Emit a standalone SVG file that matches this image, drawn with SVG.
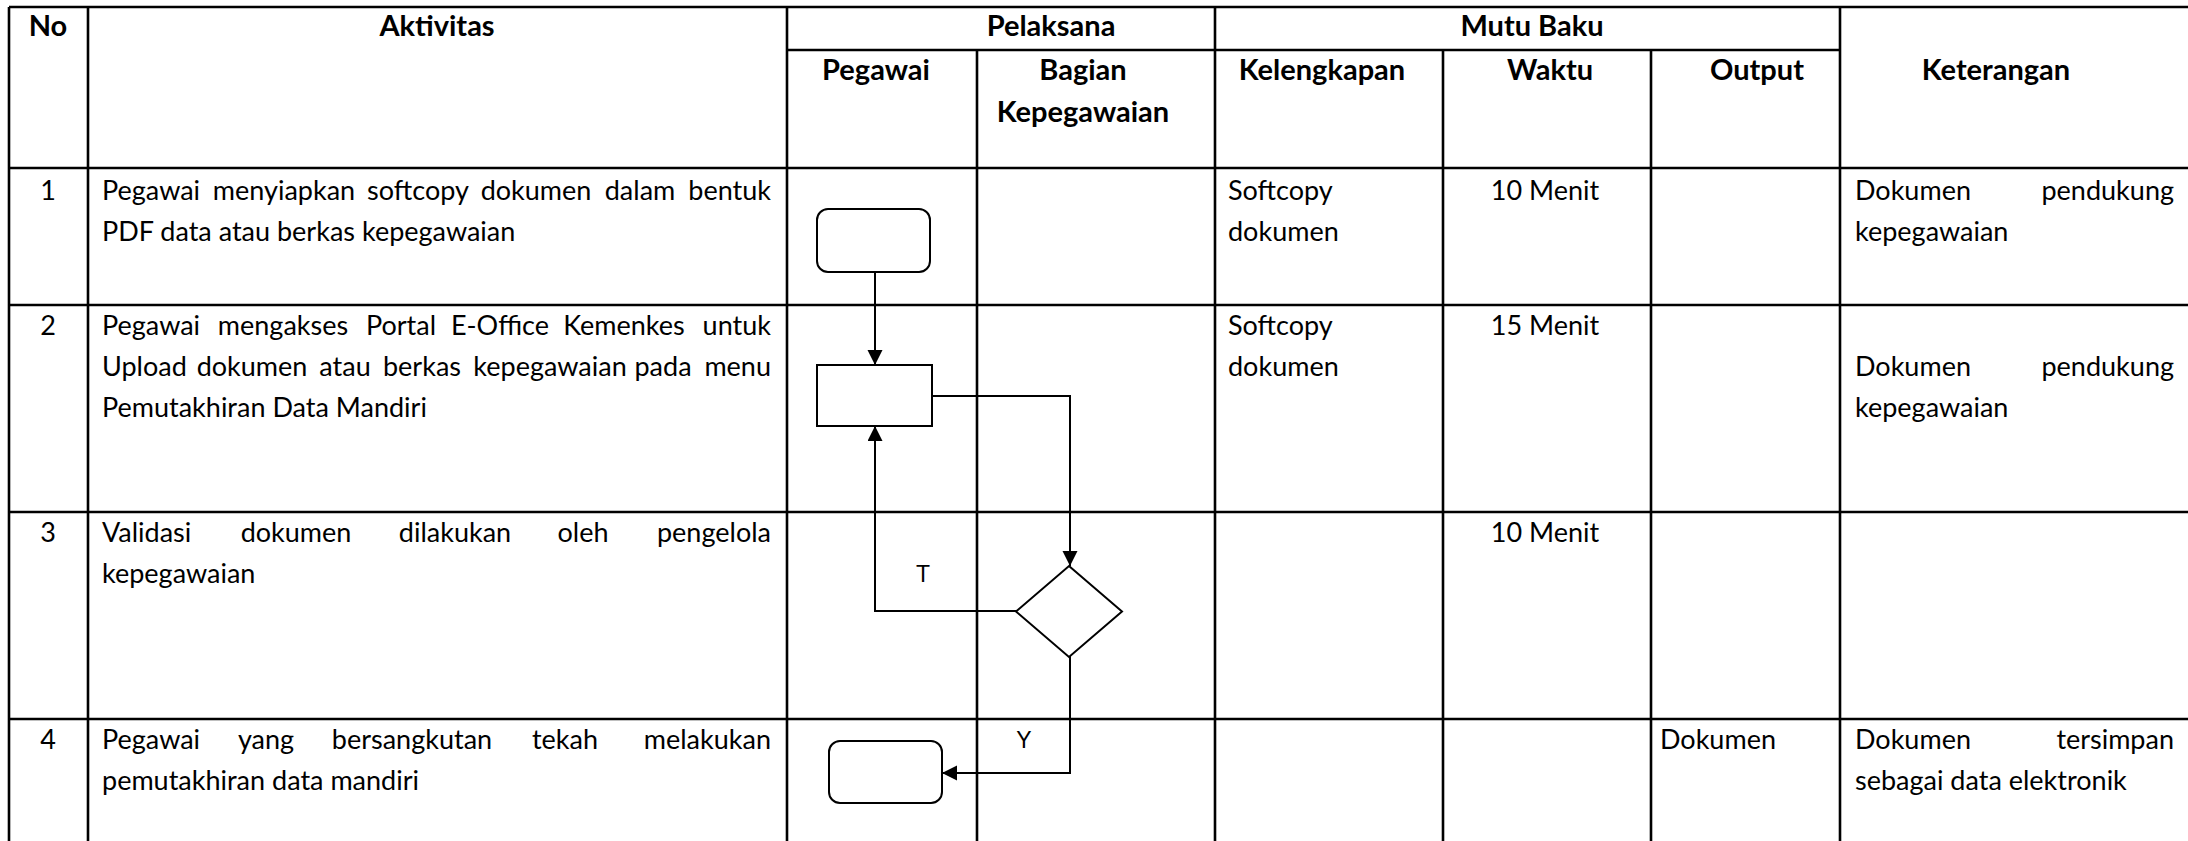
<svg xmlns="http://www.w3.org/2000/svg" width="2188" height="841" viewBox="0 0 2188 841">
<style>
.grid{stroke:#000;stroke-width:2.6;fill:none}
.h{font-family:Lato,"Liberation Sans",sans-serif;font-weight:bold;font-size:29px;fill:#000}
.t{font-family:Lato,"Liberation Sans",sans-serif;font-size:27px;fill:#000}
.c{text-anchor:middle}
.e{text-anchor:end}
.lbl{font-family:"Liberation Sans",Arial,sans-serif;font-size:23px;fill:#000;text-anchor:middle}
.shape{fill:#fff;stroke:#000;stroke-width:2}
.conn{fill:none;stroke:#000;stroke-width:2}
</style>
<defs>
<marker id="arr" markerUnits="userSpaceOnUse" markerWidth="16" markerHeight="16" refX="15" refY="7.5" orient="auto">
<path d="M0,0 L15,7.5 L0,15 z" fill="#000"/>
</marker>
</defs>
<rect width="2188" height="841" fill="#fff"/>
<g id="table">
<path class="grid" d="M9,7 H2188 M787,50 H1840 M9,168 H2188 M9,305 H2188 M9,512 H2188 M9,719 H2188 M9,7 V841 M88,7 V841 M787,7 V841 M977,50 V841 M1215,7 V841 M1443,50 V841 M1651,50 V841 M1840,7 V841"/>
</g>
<g id="header">
<text class="h c" x="48" y="36">No</text>
<text class="h c" x="437" y="36">Aktivitas</text>
<text class="h c" x="1051" y="36">Pelaksana</text>
<text class="h c" x="1532" y="36">Mutu Baku</text>
<text class="h c" x="876" y="80">Pegawai</text>
<text class="h c" x="1083" y="80">Bagian</text>
<text class="h c" x="1083" y="122">Kepegawaian</text>
<text class="h c" x="1322" y="80">Kelengkapan</text>
<text class="h c" x="1550" y="80">Waktu</text>
<text class="h c" x="1757" y="80">Output</text>
<text class="h c" x="1996" y="80">Keterangan</text>
</g>
<g id="row1">
<text class="t c" x="48" y="200">1</text>
<text class="t" x="102" y="200">Pegawai</text>
<text class="t c" x="284" y="200">menyiapkan</text>
<text class="t c" x="418" y="200">softcopy</text>
<text class="t c" x="536" y="200">dokumen</text>
<text class="t c" x="640" y="200">dalam</text>
<text class="t e" x="771" y="200">bentuk</text>
<text class="t" x="102" y="241">PDF data atau berkas kepegawaian</text>
<text class="t" x="1228" y="200">Softcopy</text>
<text class="t" x="1228" y="241">dokumen</text>
<text class="t c" x="1545" y="200">10 Menit</text>
<text class="t" x="1855" y="200">Dokumen</text>
<text class="t e" x="2174" y="200">pendukung</text>
<text class="t" x="1855" y="241">kepegawaian</text>
</g>
<g id="row2">
<text class="t c" x="48" y="335">2</text>
<text class="t" x="102" y="335">Pegawai</text>
<text class="t c" x="283" y="335">mengakses</text>
<text class="t c" x="401" y="335">Portal</text>
<text class="t c" x="500" y="335">E-Office</text>
<text class="t c" x="624" y="335">Kemenkes</text>
<text class="t e" x="771" y="335">untuk</text>
<text class="t" x="102" y="376">Upload</text>
<text class="t c" x="252" y="376">dokumen</text>
<text class="t c" x="345" y="376">atau</text>
<text class="t c" x="422" y="376">berkas</text>
<text class="t c" x="550" y="376">kepegawaian</text>
<text class="t c" x="663" y="376">pada</text>
<text class="t e" x="771" y="376">menu</text>
<text class="t" x="102" y="417">Pemutakhiran Data Mandiri</text>
<text class="t" x="1228" y="335">Softcopy</text>
<text class="t" x="1228" y="376">dokumen</text>
<text class="t c" x="1545" y="335">15 Menit</text>
<text class="t" x="1855" y="376">Dokumen</text>
<text class="t e" x="2174" y="376">pendukung</text>
<text class="t" x="1855" y="417">kepegawaian</text>
</g>
<g id="row3">
<text class="t c" x="48" y="542">3</text>
<text class="t" x="102" y="542">Validasi</text>
<text class="t c" x="296" y="542">dokumen</text>
<text class="t c" x="455" y="542">dilakukan</text>
<text class="t c" x="583" y="542">oleh</text>
<text class="t e" x="771" y="542">pengelola</text>
<text class="t" x="102" y="583">kepegawaian</text>
<text class="t c" x="1545" y="542">10 Menit</text>
</g>
<g id="row4">
<text class="t c" x="48" y="749">4</text>
<text class="t" x="102" y="749">Pegawai</text>
<text class="t c" x="266" y="749">yang</text>
<text class="t c" x="412" y="749">bersangkutan</text>
<text class="t c" x="565" y="749">tekah</text>
<text class="t e" x="771" y="749">melakukan</text>
<text class="t" x="102" y="790">pemutakhiran data mandiri</text>
<text class="t" x="1660" y="749">Dokumen</text>
<text class="t" x="1855" y="749">Dokumen</text>
<text class="t e" x="2174" y="749">tersimpan</text>
<text class="t" x="1855" y="790">sebagai data elektronik</text>
</g>
<g id="start">
<rect class="shape" x="817" y="209" width="113" height="63" rx="11"/>
</g>
<g id="upload">
<rect class="shape" x="817" y="365" width="115" height="61"/>
</g>
<g id="validasi">
<polygon class="shape" points="1069,566 1122,611.5 1069,657 1016,611.5"/>
</g>
<g id="end">
<rect class="shape" x="829" y="741" width="113" height="62" rx="11"/>
</g>
<g id="connectors">
<path class="conn" d="M875,272 V365" marker-end="url(#arr)"/>
<path class="conn" d="M932,396 H1070 V566" marker-end="url(#arr)"/>
<path class="conn" d="M1016,611 H875 V426" marker-end="url(#arr)"/>
<path class="conn" d="M1069,657 H1070 V773 H942" marker-end="url(#arr)"/>
<text class="lbl" x="923" y="582">T</text>
<text class="lbl" x="1024" y="748">Y</text>
</g>
</svg>
